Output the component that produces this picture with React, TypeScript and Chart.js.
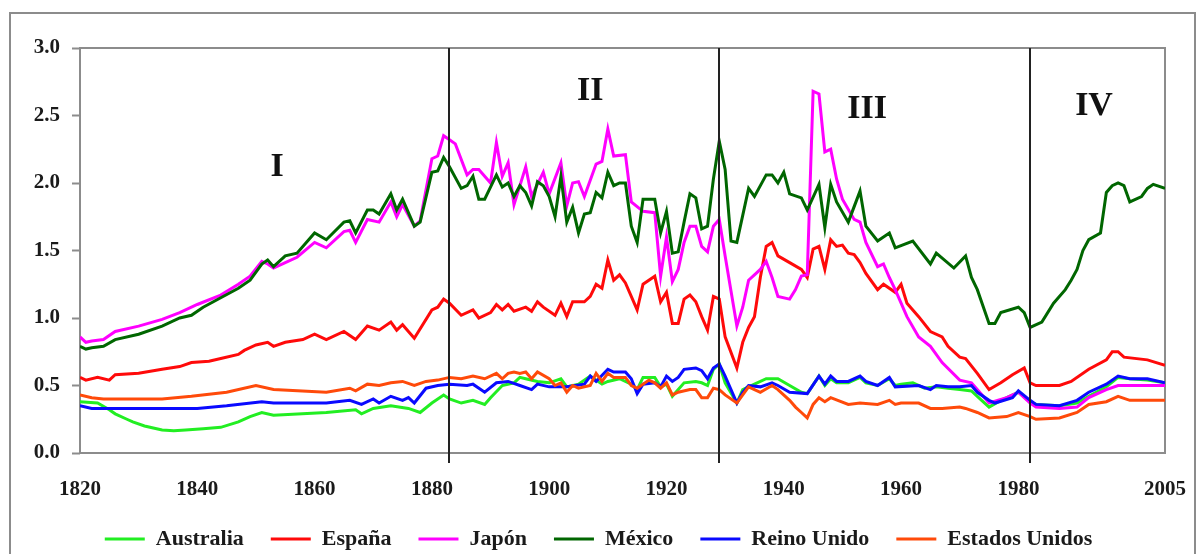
import { useEffect, useRef } from 'react';
import { Chart, registerables } from 'chart.js';

Chart.register(...registerables);

const seriesNames = ['Australia', 'España', 'Japón', 'México', 'Reino Unido', 'Estados Unidos'];
const seriesColors = ['#22EE22', '#FF0A0A', '#FF00FF', '#006600', '#0A0AFF', '#FF4A0A'];

const australia: [number, number][] = [
  [1820, 0.38], [1823, 0.37], [1825, 0.32], [1826, 0.29], [1828, 0.25], [1829, 0.23], [1831, 0.2], [1834, 0.17],
  [1836, 0.165], [1838, 0.17], [1841, 0.18], [1844, 0.19], [1847, 0.23], [1849, 0.27], [1851, 0.3], [1853, 0.28],
  [1862, 0.3], [1867, 0.32], [1868, 0.29], [1870, 0.33], [1873, 0.35], [1876, 0.33], [1878, 0.3], [1880, 0.37],
  [1882, 0.43], [1883, 0.4], [1885, 0.37], [1887, 0.39], [1889, 0.36], [1890, 0.41], [1892, 0.5], [1894, 0.52],
  [1895, 0.56], [1896, 0.55], [1898, 0.53], [1900, 0.52], [1902, 0.55], [1903, 0.49], [1905, 0.51], [1907, 0.57],
  [1909, 0.51], [1910, 0.53], [1912, 0.55], [1914, 0.51], [1915, 0.47], [1916, 0.56], [1918, 0.56], [1919, 0.49],
  [1920, 0.51], [1921, 0.42], [1923, 0.52], [1925, 0.53], [1926, 0.52], [1927, 0.5], [1928, 0.62], [1929, 0.66],
  [1930, 0.52], [1932, 0.37], [1933, 0.47], [1935, 0.51], [1937, 0.55], [1939, 0.55], [1941, 0.5], [1943, 0.45],
  [1944, 0.44], [1946, 0.57], [1947, 0.5], [1948, 0.55], [1949, 0.52], [1951, 0.52], [1953, 0.56], [1954, 0.52],
  [1956, 0.5], [1958, 0.55], [1959, 0.5], [1960, 0.51], [1962, 0.52], [1964, 0.48], [1966, 0.49], [1968, 0.48],
  [1970, 0.47], [1972, 0.46], [1973, 0.42], [1975, 0.34], [1977, 0.39], [1980, 0.45], [1982, 0.38], [1983, 0.36],
  [1987, 0.35], [1990, 0.37], [1992, 0.42], [1995, 0.49], [1997, 0.56], [1999, 0.55], [2002, 0.54], [2005, 0.52],
];

const espana: [number, number][] = [
  [1820, 0.56], [1821, 0.54], [1823, 0.56], [1825, 0.54], [1826, 0.58], [1830, 0.59], [1834, 0.62], [1837, 0.64],
  [1839, 0.67], [1842, 0.68], [1844, 0.7], [1847, 0.73], [1848, 0.76], [1850, 0.8], [1852, 0.82], [1853, 0.79],
  [1855, 0.82], [1858, 0.84], [1860, 0.88], [1862, 0.84], [1865, 0.9], [1867, 0.84], [1869, 0.94], [1871, 0.91],
  [1873, 0.97], [1874, 0.91], [1875, 0.95], [1876, 0.9], [1877, 0.85], [1880, 1.06], [1881, 1.08], [1882, 1.14],
  [1883, 1.11], [1885, 1.02], [1887, 1.06], [1888, 1.0], [1890, 1.04], [1891, 1.1], [1892, 1.06], [1893, 1.1],
  [1894, 1.05], [1896, 1.08], [1897, 1.05], [1898, 1.12], [1899, 1.08], [1901, 1.02], [1902, 1.11], [1903, 1.01],
  [1904, 1.12], [1906, 1.12], [1907, 1.16], [1908, 1.25], [1909, 1.22], [1910, 1.43], [1911, 1.28], [1912, 1.32],
  [1913, 1.26], [1915, 1.06], [1916, 1.25], [1918, 1.31], [1919, 1.12], [1920, 1.19], [1921, 0.96], [1922, 0.96],
  [1923, 1.14], [1924, 1.17], [1925, 1.12], [1926, 1.01], [1927, 0.91], [1928, 1.16], [1929, 1.14], [1930, 0.86],
  [1932, 0.63], [1933, 0.82], [1934, 0.93], [1935, 1.01], [1936, 1.3], [1937, 1.53], [1938, 1.56], [1939, 1.46],
  [1941, 1.41], [1943, 1.36], [1944, 1.3], [1945, 1.51], [1946, 1.53], [1947, 1.36], [1948, 1.58], [1949, 1.53],
  [1950, 1.54], [1951, 1.48], [1952, 1.47], [1953, 1.41], [1954, 1.33], [1956, 1.21], [1957, 1.25], [1959, 1.19],
  [1960, 1.25], [1961, 1.11], [1963, 1.01], [1965, 0.9], [1967, 0.86], [1968, 0.79], [1970, 0.71], [1971, 0.7],
  [1973, 0.59], [1975, 0.47], [1977, 0.52], [1979, 0.58], [1981, 0.63], [1982, 0.52], [1983, 0.5], [1987, 0.5],
  [1989, 0.53], [1992, 0.62], [1995, 0.69], [1996, 0.75], [1997, 0.75], [1998, 0.71], [2002, 0.69], [2005, 0.65],
];

const japon: [number, number][] = [
  [1820, 0.86], [1821, 0.82], [1822, 0.83], [1824, 0.84], [1826, 0.9], [1830, 0.94], [1834, 0.99], [1837, 1.04],
  [1840, 1.1], [1844, 1.17], [1847, 1.25], [1849, 1.31], [1851, 1.42], [1852, 1.4], [1853, 1.37], [1855, 1.41],
  [1857, 1.45], [1860, 1.56], [1862, 1.52], [1865, 1.64], [1866, 1.65], [1867, 1.56], [1869, 1.73], [1871, 1.71],
  [1873, 1.86], [1874, 1.75], [1875, 1.84], [1877, 1.68], [1878, 1.72], [1880, 2.18], [1881, 2.2], [1882, 2.35],
  [1883, 2.32], [1884, 2.29], [1886, 2.06], [1887, 2.1], [1888, 2.1], [1890, 2.0], [1891, 2.3], [1892, 2.05],
  [1893, 2.15], [1894, 1.84], [1896, 2.12], [1897, 1.9], [1899, 2.08], [1900, 1.92], [1902, 2.15], [1903, 1.83],
  [1904, 2.0], [1905, 2.01], [1906, 1.9], [1908, 2.14], [1909, 2.16], [1910, 2.4], [1911, 2.2], [1913, 2.21],
  [1914, 1.86], [1916, 1.79], [1918, 1.78], [1919, 1.31], [1920, 1.6], [1921, 1.27], [1922, 1.36], [1923, 1.56],
  [1924, 1.68], [1925, 1.68], [1926, 1.53], [1927, 1.49], [1928, 1.68], [1929, 1.73], [1930, 1.46], [1931, 1.2],
  [1932, 0.94], [1933, 1.08], [1934, 1.28], [1935, 1.32], [1936, 1.36], [1937, 1.42], [1938, 1.3], [1939, 1.16],
  [1941, 1.14], [1942, 1.21], [1943, 1.31], [1944, 1.32], [1945, 2.68], [1946, 2.66], [1947, 2.23], [1948, 2.25],
  [1949, 2.03], [1950, 1.88], [1952, 1.73], [1953, 1.71], [1954, 1.56], [1956, 1.38], [1957, 1.4], [1958, 1.3],
  [1959, 1.21], [1961, 1.01], [1963, 0.86], [1965, 0.79], [1967, 0.67], [1970, 0.54], [1972, 0.52], [1974, 0.42],
  [1975, 0.37], [1978, 0.41], [1980, 0.45], [1982, 0.37], [1983, 0.34], [1987, 0.33], [1990, 0.34], [1992, 0.41],
  [1995, 0.47], [1997, 0.5], [2005, 0.5],
];

const mexico: [number, number][] = [
  [1820, 0.79], [1821, 0.77], [1822, 0.78], [1824, 0.79], [1826, 0.84], [1830, 0.88], [1834, 0.94], [1837, 1.0],
  [1839, 1.02], [1841, 1.08], [1844, 1.15], [1847, 1.22], [1849, 1.28], [1850, 1.34], [1851, 1.4], [1852, 1.43],
  [1853, 1.38], [1855, 1.46], [1857, 1.48], [1860, 1.63], [1862, 1.58], [1865, 1.71], [1866, 1.72], [1867, 1.63],
  [1869, 1.8], [1870, 1.8], [1871, 1.77], [1873, 1.92], [1874, 1.8], [1875, 1.88], [1877, 1.68], [1878, 1.71],
  [1880, 2.08], [1881, 2.09], [1882, 2.19], [1883, 2.12], [1885, 1.96], [1886, 1.98], [1887, 2.05], [1888, 1.88],
  [1889, 1.88], [1891, 2.06], [1892, 1.97], [1893, 2.0], [1894, 1.9], [1895, 1.98], [1896, 1.93], [1897, 1.83],
  [1898, 2.01], [1899, 1.98], [1900, 1.9], [1901, 1.75], [1902, 2.05], [1903, 1.71], [1904, 1.82], [1905, 1.63],
  [1906, 1.77], [1907, 1.78], [1908, 1.93], [1909, 1.89], [1910, 2.08], [1911, 1.98], [1912, 2.0], [1913, 2.0],
  [1914, 1.68], [1915, 1.56], [1916, 1.88], [1918, 1.88], [1919, 1.63], [1920, 1.79], [1921, 1.48], [1922, 1.49],
  [1923, 1.71], [1924, 1.92], [1925, 1.89], [1926, 1.66], [1927, 1.68], [1928, 2.03], [1929, 2.31], [1930, 2.1],
  [1931, 1.57], [1932, 1.56], [1934, 1.96], [1935, 1.9], [1937, 2.06], [1938, 2.06], [1939, 2.0], [1940, 2.08],
  [1941, 1.92], [1943, 1.89], [1944, 1.8], [1946, 1.99], [1947, 1.67], [1948, 1.99], [1949, 1.86], [1951, 1.71],
  [1953, 1.94], [1954, 1.68], [1956, 1.57], [1958, 1.63], [1959, 1.52], [1962, 1.57], [1965, 1.4], [1966, 1.48],
  [1969, 1.37], [1971, 1.46], [1972, 1.3], [1973, 1.21], [1975, 0.96], [1976, 0.96], [1977, 1.04], [1980, 1.08],
  [1981, 1.04], [1982, 0.93], [1984, 0.97], [1986, 1.11], [1988, 1.21], [1989, 1.28], [1990, 1.36], [1991, 1.5],
  [1992, 1.58], [1994, 1.63], [1995, 1.93], [1996, 1.98], [1997, 2.0], [1998, 1.98], [1999, 1.86], [2001, 1.9],
  [2002, 1.96], [2003, 1.99], [2005, 1.96],
];

const reinoUnido: [number, number][] = [
  [1820, 0.35], [1822, 0.33], [1834, 0.33], [1840, 0.33], [1845, 0.35], [1851, 0.38], [1853, 0.37], [1862, 0.37],
  [1866, 0.39], [1868, 0.36], [1870, 0.4], [1871, 0.37], [1873, 0.42], [1875, 0.39], [1876, 0.41], [1877, 0.37],
  [1879, 0.48], [1881, 0.5], [1883, 0.51], [1886, 0.5], [1887, 0.51], [1889, 0.45], [1891, 0.52], [1893, 0.53],
  [1895, 0.5], [1897, 0.47], [1898, 0.51], [1900, 0.49], [1903, 0.49], [1906, 0.51], [1907, 0.57], [1908, 0.53],
  [1910, 0.62], [1911, 0.6], [1913, 0.6], [1914, 0.55], [1915, 0.44], [1916, 0.51], [1918, 0.52], [1919, 0.49],
  [1920, 0.57], [1921, 0.53], [1922, 0.56], [1923, 0.62], [1925, 0.63], [1926, 0.61], [1927, 0.55], [1928, 0.63],
  [1929, 0.66], [1930, 0.57], [1931, 0.47], [1932, 0.37], [1933, 0.45], [1934, 0.5], [1936, 0.49], [1938, 0.52],
  [1939, 0.5], [1941, 0.45], [1944, 0.44], [1946, 0.57], [1947, 0.51], [1948, 0.57], [1949, 0.53], [1951, 0.53],
  [1953, 0.57], [1954, 0.53], [1956, 0.5], [1958, 0.56], [1959, 0.49], [1963, 0.5], [1965, 0.47], [1966, 0.5],
  [1968, 0.49], [1970, 0.49], [1972, 0.5], [1973, 0.45], [1975, 0.39], [1976, 0.37], [1979, 0.41], [1980, 0.46],
  [1982, 0.39], [1983, 0.36], [1987, 0.35], [1990, 0.39], [1992, 0.45], [1995, 0.51], [1997, 0.57], [1999, 0.55],
  [2002, 0.55], [2005, 0.52],
];

const estadosUnidos: [number, number][] = [
  [1820, 0.43], [1822, 0.41], [1824, 0.4], [1834, 0.4], [1839, 0.42], [1845, 0.45], [1850, 0.5], [1853, 0.47],
  [1862, 0.45], [1866, 0.48], [1867, 0.46], [1869, 0.51], [1871, 0.5], [1873, 0.52], [1875, 0.53], [1877, 0.5],
  [1879, 0.53], [1881, 0.54], [1883, 0.56], [1885, 0.55], [1887, 0.57], [1889, 0.55], [1891, 0.59], [1892, 0.55],
  [1893, 0.59], [1894, 0.6], [1895, 0.59], [1896, 0.6], [1897, 0.55], [1898, 0.6], [1900, 0.55], [1901, 0.5],
  [1902, 0.52], [1903, 0.45], [1904, 0.5], [1905, 0.48], [1907, 0.5], [1908, 0.59], [1909, 0.53], [1910, 0.59],
  [1911, 0.56], [1913, 0.56], [1914, 0.5], [1915, 0.48], [1917, 0.54], [1918, 0.52], [1919, 0.48], [1920, 0.52],
  [1921, 0.43], [1922, 0.45], [1924, 0.47], [1925, 0.47], [1926, 0.41], [1927, 0.41], [1928, 0.48], [1929, 0.47],
  [1930, 0.43], [1932, 0.37], [1933, 0.43], [1934, 0.49], [1935, 0.47], [1936, 0.45], [1938, 0.5], [1939, 0.47],
  [1941, 0.39], [1942, 0.34], [1943, 0.3], [1944, 0.26], [1945, 0.36], [1946, 0.41], [1947, 0.38], [1948, 0.41],
  [1951, 0.36], [1953, 0.37], [1956, 0.36], [1958, 0.39], [1959, 0.36], [1960, 0.37], [1963, 0.37], [1965, 0.33],
  [1967, 0.33], [1970, 0.34], [1971, 0.33], [1973, 0.3], [1975, 0.26], [1978, 0.27], [1980, 0.3], [1982, 0.27],
  [1983, 0.25], [1987, 0.26], [1990, 0.3], [1992, 0.36], [1995, 0.38], [1997, 0.42], [1999, 0.39], [2005, 0.39],
];

const seriesData = [australia, espana, japon, mexico, reinoUnido, estadosUnidos];

const xTickYears = [1820, 1840, 1860, 1880, 1900, 1920, 1940, 1960, 1980, 2005];
const yTickValues = [0, 0.5, 1.0, 1.5, 2.0, 2.5, 3.0];
const periodBreakYears = [1883, 1929, 1982];
const periodLabels = ['I', 'II', 'III', 'IV'];
const periodLabelYears = [1853.6, 1907, 1954.2, 1992.9];
const periodLabelValues = [2.12, 2.68, 2.55, 2.57];

const SERIF = "'Liberation Serif', 'Times New Roman', serif";
const W = 1197;
const H = 560;

const decorPlugin = {
  id: 'decor',
  beforeDraw(chart: any) {
    const { ctx } = chart;
    ctx.save();
    ctx.fillStyle = '#ffffff';
    ctx.fillRect(0, 0, chart.width, chart.height);
    ctx.strokeStyle = '#8c8c8c';
    ctx.lineWidth = 2;
    ctx.strokeRect(10, 13, 1185, 560);
    ctx.restore();
  },
  beforeDatasetsDraw(chart: any) {
    const { ctx, chartArea } = chart;
    ctx.save();
    ctx.strokeStyle = '#8c8c8c';
    ctx.lineWidth = 2;
    ctx.strokeRect(chartArea.left, chartArea.top, chartArea.right - chartArea.left, chartArea.bottom - chartArea.top);
    ctx.restore();
  },
  afterDatasetsDraw(chart: any) {
    const { ctx, chartArea, scales } = chart;
    ctx.save();
    ctx.strokeStyle = '#222222';
    ctx.lineWidth = 2;
    periodBreakYears.forEach((yr) => {
      const x = Math.round(scales.x.getPixelForValue(yr));
      ctx.beginPath();
      ctx.moveTo(x, chartArea.top);
      ctx.lineTo(x, chartArea.bottom + 10);
      ctx.stroke();
    });
    ctx.fillStyle = '#111111';
    ctx.font = `bold 34px ${SERIF}`;
    ctx.textAlign = 'center';
    ctx.textBaseline = 'middle';
    periodLabels.forEach((label, i) => {
      const x = scales.x.getPixelForValue(periodLabelYears[i]);
      const y = scales.y.getPixelForValue(periodLabelValues[i]);
      ctx.fillText(label, x, y);
    });
    ctx.restore();
  },
};

export default function App() {
  const canvasRef = useRef<HTMLCanvasElement | null>(null);

  useEffect(() => {
    document.body.style.margin = '0';
    document.body.style.overflow = 'hidden';
    const canvas = canvasRef.current;
    if (!canvas) return;
    const n = seriesNames.length;
    const chart = new Chart(canvas, {
      type: 'line',
      data: {
        datasets: seriesNames.map((name, i) => ({
          label: name,
          data: seriesData[i].map(([x, y]) => ({ x, y })),
          borderColor: seriesColors[i],
          backgroundColor: seriesColors[i],
          borderWidth: 3,
          pointRadius: 0,
          tension: 0,
          fill: false,
          order: n - i,
        })),
      },
      options: {
        animation: false,
        responsive: false,
        devicePixelRatio: 1,
        layout: { padding: { left: 0, right: 0, top: 48, bottom: 0 } },
        plugins: {
          tooltip: { enabled: false },
          legend: {
            position: 'bottom',
            labels: {
              font: { family: SERIF, size: 22, weight: 'bold' },
              color: '#1a1a1a',
              boxWidth: 40,
              boxHeight: 3,
              padding: 27,
              sort: (a: any, b: any) => a.datasetIndex - b.datasetIndex,
              generateLabels: (c: any) =>
                Chart.defaults.plugins.legend.labels.generateLabels(c).map((item: any) => ({
                  ...item,
                  lineWidth: 0,
                  strokeStyle: item.fillStyle,
                })),
            },
          },
        },
        scales: {
          x: {
            type: 'linear',
            min: 1820,
            max: 2005,
            afterBuildTicks: (scale: any) => {
              scale.ticks = xTickYears.map((v) => ({ value: v }));
            },
            afterFit: (scale: any) => {
              scale.height = 48;
              scale.paddingLeft = 0;
              scale.paddingRight = 0;
            },
            grid: { display: false },
            border: { display: false },
            ticks: {
              autoSkip: false,
              maxRotation: 0,
              padding: 16,
              color: '#1a1a1a',
              font: { family: SERIF, size: 21, weight: 'bold' },
              callback: (v: any) => String(v),
            },
          },
          y: {
            type: 'linear',
            position: 'left',
            min: 0,
            max: 3,
            afterBuildTicks: (scale: any) => {
              scale.ticks = yTickValues.map((v) => ({ value: v }));
            },
            afterFit: (scale: any) => {
              scale.width = 80;
            },
            grid: {
              display: true,
              drawOnChartArea: false,
              drawTicks: true,
              tickLength: 8,
              tickColor: '#8c8c8c',
              tickWidth: 2,
            },
            border: { display: false },
            ticks: {
              padding: 12,
              color: '#1a1a1a',
              font: { family: SERIF, size: 21, weight: 'bold' },
              callback: (v: any) => Number(v).toFixed(1),
            },
          },
          yRight: {
            type: 'linear',
            position: 'right',
            display: true,
            afterFit: (scale: any) => {
              scale.width = 32;
            },
            grid: { display: false },
            border: { display: false },
            ticks: { display: false },
          },
        },
      } as any,
      plugins: [decorPlugin],
    });
    return () => chart.destroy();
  }, []);

  return (
    <div style={{ width: W, height: H }}>
      <canvas ref={canvasRef} width={W} height={H} style={{ width: W, height: H, display: 'block' }} />
    </div>
  );
}
